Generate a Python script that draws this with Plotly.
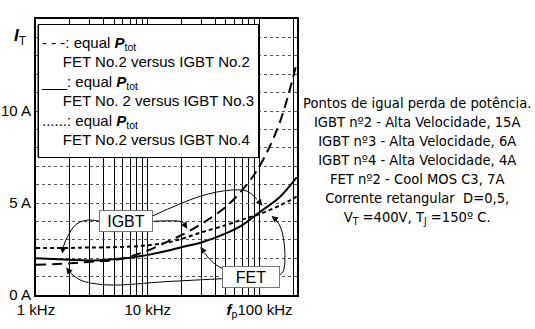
import math
import plotly.graph_objects as go

# ---- data (frequency in kHz, current in A) ----
freq_khz = [1, 2, 3, 5, 7, 10, 15, 20, 30, 50, 70, 100, 150, 215]
igbt2_A = [1.64, 1.72, 1.80, 1.90, 2.10, 2.42, 2.90, 3.25, 3.85, 4.80, 5.70, 7.00, 9.30, 12.6]
igbt3_A = [2.00, 1.92, 1.88, 1.95, 2.03, 2.18, 2.40, 2.60, 2.85, 3.35, 3.80, 4.50, 5.30, 6.40]
igbt4_A = [2.55, 2.56, 2.58, 2.60, 2.63, 2.70, 2.85, 3.05, 3.40, 3.80, 4.10, 4.40, 4.85, 5.35]

x_label_vals = [1, 10, 100]
x_label_text = ["1 kHz", "10 kHz", "<b><i>f</i></b><sub>p</sub>100 kHz"]
x_grid_vals = [2, 3, 4, 5, 6, 7, 8, 9, 20, 30, 40, 50, 60, 70, 80, 90, 200]
y_label_vals = [0, 5, 10]
y_label_text = ["0 A", "5 A", "10 A"]
y_grid_vals = [1, 2, 3, 4, 6, 7, 8, 9, 11, 12, 13, 14]

series_dash = ["10px,6px", "solid", "4px,3px"]
legend_first = ["- - -: equal <b><i>P</i></b><sub>tot</sub>",
                "___: equal <b><i>P</i></b><sub>tot</sub>",
                "......: equal <b><i>P</i></b><sub>tot</sub>"]
legend_second = ["FET No.2 versus IGBT No.2", "FET No. 2 versus IGBT No.3", "FET No.2 versus IGBT No.4"]

# callout labels (label, f, A) and their leader paths (points..., tip)
callout_labels = [("IGBT", 6.4, 4.0), ("FET", 83, 1.0)]
callout_paths = [
    [(3.83, 4.0), (2.81, 4.06), (2.28, 3.83), (1.92, 3.19), (1.75, 2.6), (1.72, 2.25)],
    [(10.75, 4.0), (19.5, 4.0), (21.0, 3.9), (22.5, 3.6)],
    [(10.9, 4.28), (29.6, 5.37), (55, 5.7), (77.5, 5.64), (95, 5.2), (106, 4.85)],
    [(55, 1.19), (38.6, 1.75), (32, 2.3), (29.6, 2.62)],
    [(148, 1.04), (163, 1.3), (168, 2.46), (155, 3.64), (140, 4.1), (128, 4.3)],
    [(55, 0.91), (14.9, 0.73), (4.3, 0.55), (2.48, 0.82), (2.0, 1.25), (1.86, 1.5)],
]

side_text = ("Pontos de igual perda de potência.<br>"
             "IGBT nº2 - Alta Velocidade, 15A<br>"
             "IGBT nº3 - Alta Velocidade, 6A<br>"
             "IGBT nº4 - Alta Velocidade, 4A<br>"
             "FET nº2 - Cool MOS C3, 7A<br>"
             "Corrente retangular  D=0,5,<br>"
             "V<sub>T</sub> =400V, T<sub>J</sub> =150º C.")

FONT = "Liberation Sans, Arial, sans-serif"
W, H = 535, 329
ML, MR, MT, MB = 36, 238, 19, 34
PW, PH = W - ML - MR, H - MT - MB


def px_x(x):
    return (x - ML) / PW


def px_y(y):
    return 1 - (y - MT) / PH


fig = go.Figure()
for ys, dash in zip([igbt2_A, igbt3_A, igbt4_A], series_dash):
    fig.add_trace(go.Scatter(x=freq_khz, y=ys, mode="lines", showlegend=False,
                             line=dict(color="black", width=2, dash=dash, shape="spline"),
                             hoverinfo="skip"))

annotations = []
for path in callout_paths:
    pts = path[:-1]
    tip = path[-1]
    fig.add_trace(go.Scatter(x=[p[0] for p in pts], y=[p[1] for p in pts], mode="lines",
                             line=dict(color="black", width=1, shape="spline"),
                             showlegend=False, hoverinfo="skip"))
    annotations.append(dict(x=math.log10(tip[0]), y=tip[1], ax=math.log10(pts[-1][0]), ay=pts[-1][1],
                            axref="x", ayref="y", xref="x", yref="y", text="", showarrow=True,
                            arrowhead=2, arrowsize=1.3, arrowwidth=1, arrowcolor="black"))

for lab, f, a in callout_labels:
    annotations.append(dict(x=math.log10(f), y=a, xref="x", yref="y", text=lab, showarrow=False,
                            font=dict(family=FONT, size=16, color="black"),
                            bgcolor="white", bordercolor="#777", borderwidth=1,
                            width=50 if lab == "IGBT" else 54, height=18))

# white panel behind the legend block (overlay axes spanning the plot area 0..1)
bx0, bx1, by0, by1 = px_x(38), px_x(259), px_y(157), px_y(25)
fig.add_trace(go.Scatter(x=[bx0, bx1, bx1, bx0, bx0], y=[by0, by0, by1, by1, by0],
                         xaxis="x2", yaxis="y2", mode="lines", fill="toself",
                         fillcolor="white", line=dict(color="black", width=1),
                         showlegend=False, hoverinfo="skip"))

# legend text block, second lines indented
indent = "\u00a0" * 5
legend_lines = []
for a, b in zip(legend_first, legend_second):
    legend_lines += [a, indent + b]
annotations.append(dict(x=px_x(148.5), y=px_y(91), xref="paper", yref="paper",
                        xanchor="center", yanchor="middle", text="<br>".join(legend_lines),
                        showarrow=False, align="left", valign="middle",
                        width=215, height=128, borderpad=2, borderwidth=1,
                        bgcolor="white", bordercolor="black",
                        font=dict(family=FONT, size=15, color="black")))

annotations.append(dict(x=px_x(417), y=px_y(160.5), xref="paper", yref="paper", text=side_text,
                        showarrow=False, align="center", xanchor="center", yanchor="middle",
                        font=dict(family="Liberation Sans Narrow, DejaVu Sans Condensed, sans-serif",
                                  size=14.6, color="black")))
annotations.append(dict(x=px_x(20), y=px_y(37), xref="paper", yref="paper", xanchor="center",
                        yanchor="middle", text="<b><i>I</i></b><sub>T</sub>", showarrow=False,
                        font=dict(family=FONT, size=17, color="black")))

fig.update_layout(
    width=W, height=H,
    margin=dict(l=ML, r=MR, t=MT, b=MB, autoexpand=False),
    paper_bgcolor="white", plot_bgcolor="white",
    font=dict(family=FONT, size=15, color="black"),
    showlegend=False,
    annotations=annotations,
    xaxis2=dict(overlaying="x", range=[0, 1], visible=False, showgrid=False, zeroline=False),
    yaxis2=dict(overlaying="y", range=[0, 1], visible=False, showgrid=False, zeroline=False),
)
fig.update_xaxes(selector=dict(type="log"))
fig.layout.xaxis.update(type="log", range=[0, 2.335], tickmode="array", tickvals=x_label_vals,
                        ticktext=x_label_text, showgrid=True, gridcolor="black", gridwidth=1,
                        minor=dict(tickmode="array", tickvals=x_grid_vals, showgrid=True,
                                   gridcolor="black", gridwidth=1, ticks=""),
                        showline=True, linecolor="black", linewidth=2, mirror=True, ticks="",
                        zeroline=False, tickangle=0, automargin=False)
fig.layout.yaxis.update(range=[0, 15], tickmode="array", tickvals=y_label_vals, ticktext=y_label_text,
                        showgrid=True, gridcolor="#555", gridwidth=1, griddash="dot",
                        minor=dict(tickmode="array", tickvals=y_grid_vals, showgrid=True,
                                   gridcolor="#555", gridwidth=1, griddash="dot", ticks=""),
                        showline=True, linecolor="black", linewidth=2, mirror=True, ticks="",
                        zeroline=False, automargin=False)

fig.write_html("out.html")
